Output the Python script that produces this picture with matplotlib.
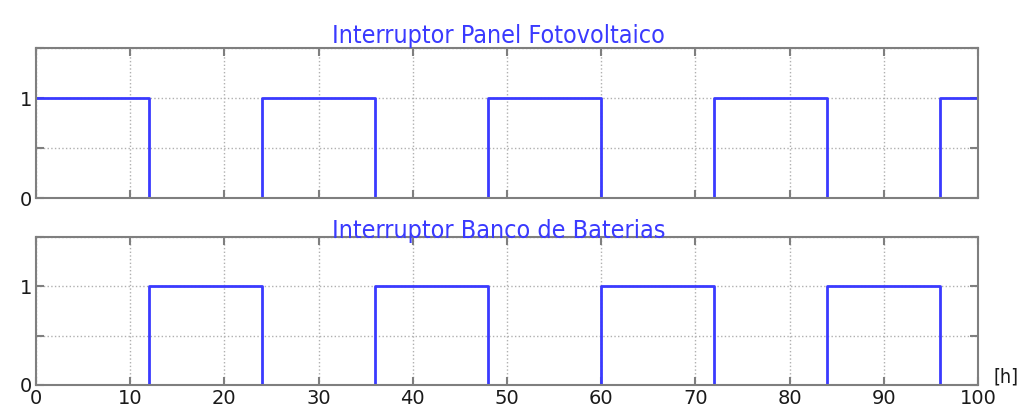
import matplotlib
matplotlib.use('Agg')
import matplotlib.pyplot as plt

OUTPUT_IMAGE = 'out.png'

# --- Data ---
# switching instants [h] and switch state right after each instant
switch_times = [0, 12, 24, 36, 48, 60, 72, 84, 96, 100]
panel_state = [1, 0, 1, 0, 1, 0, 1, 0, 1, 1]
battery_state = [0, 1, 0, 1, 0, 1, 0, 1, 0, 0]

titles = ['Interruptor Panel Fotovoltaico', 'Interruptor Banco de Baterias']
x_ticks = [0, 10, 20, 30, 40, 50, 60, 70, 80, 90, 100]
y_ticks = [0, 0.5, 1, 1.5]
y_tick_labels = ['0', '', '1', '']

LINE_COLOR = '#3a3aff'
FRAME_COLOR = '#7f7f7f'

# --- Plotting ---
fig = plt.figure(figsize=(10.22, 4.12), dpi=100)
ax_top = fig.add_axes([0.0352, 0.519, 0.9218, 0.364])
ax_bot = fig.add_axes([0.0352, 0.066, 0.9218, 0.359])

for ax, state, title in zip([ax_top, ax_bot], [panel_state, battery_state], titles):
    ax.step(switch_times, state, where='post', color=LINE_COLOR, linewidth=2.0)
    ax.set_xlim(0, 100)
    ax.set_ylim(0, 1.5)
    ax.set_xticks(x_ticks)
    ax.set_yticks(y_ticks)
    ax.set_yticklabels(y_tick_labels)
    ax.grid(True, linestyle=':', color='#b0b0b0', linewidth=1.0)
    ax.tick_params(direction='in', top=True, right=True, length=6, width=1.5,
                   color=FRAME_COLOR, labelsize=14, labelcolor='#1a1a1a', pad=3)
    for spine in ax.spines.values():
        spine.set_color(FRAME_COLOR)
        spine.set_linewidth(1.5)
    ax.set_title(title, fontsize=18, color=LINE_COLOR, pad=-1, x=0.491,
                 family=['DejaVu Sans'], fontstretch='condensed')

ax_top.tick_params(labelbottom=False)
ax_bot.text(1.016, 0.05, '[h]', transform=ax_bot.transAxes, fontsize=14,
            color='#1a1a1a', ha='left', va='center', fontstretch='condensed')

plt.savefig(OUTPUT_IMAGE, dpi=100)
